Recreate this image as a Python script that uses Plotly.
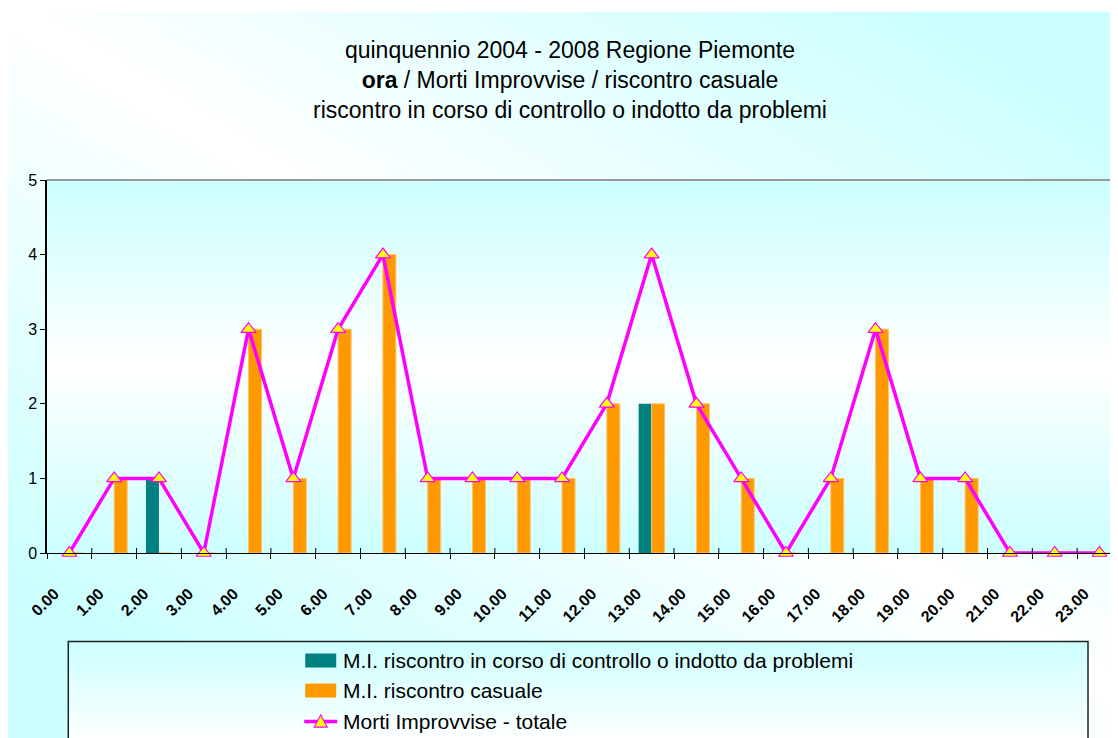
import plotly.graph_objects as go

# ---- data ----
hours = ["0.00", "1.00", "2.00", "3.00", "4.00", "5.00", "6.00", "7.00", "8.00", "9.00",
         "10.00", "11.00", "12.00", "13.00", "14.00", "15.00", "16.00", "17.00", "18.00",
         "19.00", "20.00", "21.00", "22.00", "23.00"]
controllo = [0, 0, 1, 0, 0, 0, 0, 0, 0, 0, 0, 0, 0, 2, 0, 0, 0, 0, 0, 0, 0, 0, 0, 0]
casuale = [0, 1, 0, 0, 3, 1, 3, 4, 1, 1, 1, 1, 2, 2, 2, 1, 0, 1, 3, 1, 1, 0, 0, 0]
totale = [0, 1, 1, 0, 3, 1, 3, 4, 1, 1, 1, 1, 2, 4, 2, 1, 0, 1, 3, 1, 1, 0, 0, 0]

name_ctrl = "M.I. riscontro in corso di controllo o indotto da problemi"
name_cas = "M.I. riscontro casuale"
name_tot = "Morti Improvvise - totale"

C_CTRL, C_CAS, C_TOT, C_MARK = "#008080", "#ff9900", "#ff00ff", "#ffff00"

OFF = 8  # page body margin
W, H = 1118 - OFF, 738 - OFF
PLOT_L, PLOT_T, PLOT_B = 46.7, 180, 552.6  # screen coords
ML = PLOT_L - OFF
MT = PLOT_T - OFF
MB = H - (PLOT_B - OFF)
MR = 0
PW = W - ML - MR
PH = H - MT - MB
FONT = "Liberation Sans, Arial, sans-serif"


def pp(x, y):
    fx, fy = x - OFF, y - OFF
    return ((fx - ML) / PW, (H - MB - fy) / PH)


def mix(f):
    f = max(0.0, min(1.0, f))
    r = round(255 - 51 * f)
    return f"rgb({r},255,255)"


def poly(pts):
    s = ""
    for i, (x, y) in enumerate(pts):
        px, py = pp(x, y)
        s += ("M" if i == 0 else "L") + f"{px:.5f},{py:.5f} "
    return s + "Z"


def pshape(pts, fill, line=None, layer="below"):
    return dict(type="path", path=poly(pts), xref="paper", yref="paper", fillcolor=fill,
                line=line or dict(width=0), layer=layer)


shapes = []
# outer diagonal gradient (white along the diagonal, cyan towards corners)
x0, y0, s = 10, 12, 0.614
D = 560
xL, xR = -30, 1150
step = 10
d = -760
while d < 800:
    da, db = d, d + step + 1
    pts = [(xL, y0 + da + s * (xL - x0)), (xR, y0 + da + s * (xR - x0)),
           (xR, y0 + db + s * (xR - x0)), (xL, y0 + db + s * (xL - x0))]
    shapes.append(pshape(pts, mix(abs(d + step / 2) / D)))
    d += step
shapes.append(pshape([(-5, -5), (1125, -5), (1125, 12), (-5, 12)], "white"))

# plot area vertical gradient: cyan top/bottom, white middle
top, bot = PLOT_T, PLOT_B
mid = (top + bot) / 2
n = 40
for i in range(n):
    ya = top + (bot - top) * i / n
    yb = top + (bot - top) * (i + 1) / n + 0.5
    f = abs((ya + yb) / 2 - mid) / (mid - top)
    shapes.append(pshape([(PLOT_L, ya), (1125, ya), (1125, yb), (PLOT_L, yb)], mix(f)))

# legend box gradient + border
lx0, lx1, ly0, ly1 = 68, 1088, 641, 760
n = 20
for i in range(n):
    ya = ly0 + (ly1 - ly0) * i / n
    yb = ly0 + (ly1 - ly0) * (i + 1) / n + 0.5
    f = 1 - ((ya + yb) / 2 - ly0) / 100
    shapes.append(pshape([(lx0, ya), (lx1, ya), (lx1, yb), (lx0, yb)], mix(f)))
shapes.append(pshape([(lx0, ly0), (lx1, ly0), (lx1, ly1), (lx0, ly1)], "rgba(0,0,0,0)",
                     dict(color="#222222", width=1.5)))
# top border of plot area
shapes.append(dict(type="line", xref="paper", yref="paper", x0=0, x1=1.01, y0=1, y1=1,
                   line=dict(color="#999999", width=2), layer="below"))

# upper half of the crossing x ticks (category boundaries)
for i in range(1, len(hours)):
    shapes.append(dict(type="line", xref="x", yref="paper", x0=i - 0.5, x1=i - 0.5,
                       y0=0, y1=5 / PH, line=dict(color="black", width=1), layer="above"))

# legend entries (symbols)
sx0, sx1 = 305, 336
rows = [660, 690, 721]
shapes.append(pshape([(sx0, rows[0] - 7), (sx1, rows[0] - 7), (sx1, rows[0] + 7), (sx0, rows[0] + 7)],
                     C_CTRL, layer="above"))
shapes.append(pshape([(sx0, rows[1] - 7), (sx1, rows[1] - 7), (sx1, rows[1] + 7), (sx0, rows[1] + 7)],
                     C_CAS, layer="above"))
lxa, lya = pp(sx0 - 1, rows[2])
lxb, _ = pp(sx1 + 1, rows[2])
shapes.append(dict(type="line", xref="paper", yref="paper", x0=lxa, x1=lxb, y0=lya, y1=lya,
                   line=dict(color=C_TOT, width=3.5), layer="above"))
tc = (sx0 + sx1) / 2
shapes.append(pshape([(tc - 6.5, rows[2] + 5.5), (tc + 6.5, rows[2] + 5.5), (tc, rows[2] - 6.5)],
                     C_MARK, dict(color=C_TOT, width=1.2), layer="above"))

annotations = []
for name, yrow in zip([name_ctrl, name_cas, name_tot], rows):
    ax, ay = pp(341, yrow)
    annotations.append(dict(text=name, x=ax, y=ay, xref="paper", yref="paper", xanchor="left",
                            yanchor="middle", showarrow=False,
                            font=dict(size=21, family=FONT, color="black")))

fig = go.Figure()
fig.add_trace(go.Bar(x=hours, y=controllo, name=name_ctrl, marker=dict(color=C_CTRL, line=dict(width=0))))
fig.add_trace(go.Bar(x=hours, y=casuale, name=name_cas,
                     marker=dict(color=C_CAS, line=dict(color="#ffc266", width=1))))
fig.add_trace(go.Scatter(x=hours, y=totale, name=name_tot, mode="lines+markers",
                         line=dict(color=C_TOT, width=3.5),
                         marker=dict(symbol="triangle-up", size=13, color=C_MARK,
                                     line=dict(color=C_TOT, width=1.2)),
                         cliponaxis=False))

cat_w = (1118 - PLOT_L) / 44.8
fig.update_layout(
    width=W, height=H,
    margin=dict(l=ML, r=MR, t=MT, b=MB, pad=0, autoexpand=False),
    paper_bgcolor="white", plot_bgcolor="rgba(0,0,0,0)",
    font=dict(family=FONT, color="black"),
    barmode="group", bargap=0.42, bargroupgap=0,
    shapes=shapes, annotations=annotations,
    showlegend=False,
    title=dict(text="quinquennio 2004 - 2008 Regione Piemonte<br><b>ora</b> / Morti Improvvise / riscontro casuale"
                    "<br>riscontro in corso di controllo o indotto da problemi",
               x=(570 - OFF) / W, xanchor="center", y=1 - 50 / H, yanchor="middle", yref="container",
               font=dict(size=23, family=FONT, color="black")),
    xaxis=dict(type="category", range=[-0.5, -0.5 + cat_w], tickson="boundaries",
               ticks="outside", ticklen=5, tickcolor="black", tickwidth=1,
               showline=True, linecolor="black", linewidth=1.2, showgrid=False, zeroline=False,
               tickangle=-45, ticklabelstandoff=24, ticklabelshift=-15, automargin=False,
               tickfont=dict(size=16, family=FONT, color="black", weight="bold")),
    yaxis=dict(range=[0, 5], dtick=1, ticks="outside", ticklen=5, tickcolor="black",
               showline=True, linecolor="black", linewidth=1.5, showgrid=False, zeroline=False,
               automargin=False,
               tickfont=dict(size=16, family=FONT, color="black")),
)

fig.write_html("out.html")
